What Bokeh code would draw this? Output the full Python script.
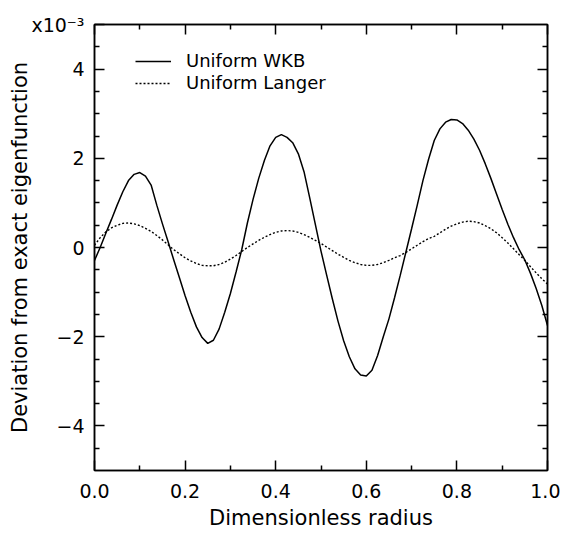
from bokeh.plotting import figure
from bokeh.models import LinearAxis, Legend, LegendItem, FixedTicker, Range1d
from bokeh.embed import file_html
from bokeh.resources import INLINE

# ---- data (values in units of 1e-3) ----
radius = [0.0000, 0.0125, 0.0250, 0.0375, 0.0500, 0.0625, 0.0750, 0.0875,
          0.1000, 0.1125, 0.1250, 0.1375, 0.1500, 0.1625, 0.1750, 0.1875,
          0.2000, 0.2125, 0.2250, 0.2375, 0.2500, 0.2625, 0.2750, 0.2875,
          0.3000, 0.3125, 0.3250, 0.3375, 0.3500, 0.3625, 0.3750, 0.3875,
          0.4000, 0.4125, 0.4250, 0.4375, 0.4500, 0.4625, 0.4750, 0.4875,
          0.5000, 0.5125, 0.5250, 0.5375, 0.5500, 0.5625, 0.5750, 0.5875,
          0.6000, 0.6125, 0.6250, 0.6375, 0.6500, 0.6625, 0.6750, 0.6875,
          0.7000, 0.7125, 0.7250, 0.7375, 0.7500, 0.7625, 0.7750, 0.7875,
          0.8000, 0.8125, 0.8250, 0.8375, 0.8500, 0.8625, 0.8750, 0.8875,
          0.9000, 0.9125, 0.9250, 0.9375, 0.9500, 0.9625, 0.9750, 0.9875,
          1.0000]
uniform_wkb = [-0.29, 0.00, 0.32, 0.63, 0.95, 1.25, 1.50, 1.64,
               1.68, 1.60, 1.40, 0.95, 0.53, 0.13, -0.28, -0.68,
               -1.08, -1.45, -1.78, -2.02, -2.15, -2.08, -1.83, -1.45,
               -1.03, -0.55, -0.05, 0.55, 1.08, 1.55, 1.95, 2.28,
               2.47, 2.53, 2.47, 2.35, 2.10, 1.70, 1.12, 0.52,
               -0.08, -0.62, -1.15, -1.65, -2.09, -2.45, -2.72, -2.86,
               -2.88, -2.75, -2.42, -2.00, -1.60, -1.12, -0.62, -0.10,
               0.42, 0.95, 1.50, 1.98, 2.40, 2.66, 2.81, 2.87,
               2.86, 2.78, 2.63, 2.43, 2.18, 1.88, 1.55, 1.20,
               0.85, 0.52, 0.22, -0.05, -0.28, -0.58, -0.92, -1.30,
               -1.75]
uniform_langer = [0.05, 0.22, 0.35, 0.44, 0.50, 0.54, 0.55, 0.53,
                  0.49, 0.43, 0.36, 0.27, 0.17, 0.06, -0.05, -0.14,
                  -0.23, -0.30, -0.36, -0.40, -0.41, -0.41, -0.38, -0.33,
                  -0.26, -0.18, -0.09, 0.00, 0.08, 0.16, 0.23, 0.29,
                  0.34, 0.37, 0.38, 0.37, 0.34, 0.29, 0.23, 0.16,
                  0.09, 0.01, -0.07, -0.15, -0.22, -0.29, -0.34, -0.38,
                  -0.40, -0.40, -0.38, -0.34, -0.29, -0.23, -0.18, -0.11,
                  -0.03, 0.05, 0.13, 0.20, 0.25, 0.33, 0.41, 0.48,
                  0.53, 0.57, 0.59, 0.58, 0.55, 0.49, 0.42, 0.33,
                  0.22, 0.10, -0.03, -0.16, -0.29, -0.43, -0.57, -0.70,
                  -0.82]

x_ticks = [0.0, 0.2, 0.4, 0.6, 0.8, 1.0]
x_minor = [0.1, 0.3, 0.5, 0.7, 0.9]
x_tick_labels = ["0.0", "0.2", "0.4", "0.6", "0.8", "1.0"]
y_ticks = [-4, -2, 0, 2, 4]
y_minor = [-4.5, -3.5, -3, -2.5, -1.5, -1, -0.5, 0.5, 1, 1.5, 2.5, 3, 3.5, 4.5]
y_tick_labels = ["\u22124", "\u22122", "0", "2", "4"]
y_scale_value = 5
y_scale_label = "x10\u207b\u00b3"

FONT = "DejaVu Sans"

p = figure(width=560, height=536, output_backend="svg", toolbar_location=None,
           x_range=Range1d(0, 1), y_range=Range1d(-5, 5),
           x_axis_label="Dimensionless radius",
           y_axis_label="Deviation from exact eigenfunction",
           min_border_left=94, min_border_right=13, min_border_top=24,
           min_border_bottom=66)
p.grid.visible = False
p.outline_line_color = "black"
p.outline_line_width = 1.5
p.background_fill_color = "white"
p.border_fill_color = "white"

r_wkb = p.line(radius, uniform_wkb, line_color="black", line_width=1.5)
r_lan = p.line(radius, uniform_langer, line_color="black", line_width=1.4,
               line_dash="2 2")


def style_axis(ax, ticks, minor, overrides, show_labels):
    ax.ticker = FixedTicker(ticks=ticks, minor_ticks=minor)
    ax.major_label_overrides = overrides
    ax.axis_line_color = "black"
    ax.axis_line_width = 1.5
    ax.major_tick_line_color = "black"
    ax.major_tick_line_width = 1.5
    ax.minor_tick_line_color = "black"
    ax.minor_tick_line_width = 1.5
    ax.major_tick_in = 10
    ax.major_tick_out = 0
    ax.minor_tick_in = 5
    ax.minor_tick_out = 0
    ax.major_label_text_font = FONT
    ax.major_label_text_color = "black"
    if show_labels:
        ax.major_label_text_font_size = "19px"
    else:
        ax.major_label_text_font_size = "0px"
        ax.major_label_standoff = 0


x_over = {t: l for t, l in zip(x_ticks, x_tick_labels)}
y_over = {t: l for t, l in zip(y_ticks, y_tick_labels)}
y_over_left = dict(y_over)
y_over_left[y_scale_value] = y_scale_label

xa = p.xaxis[0]
ya = p.yaxis[0]
style_axis(xa, x_ticks, x_minor, x_over, True)
style_axis(ya, y_ticks + [y_scale_value], y_minor, y_over_left, True)
xa.major_label_standoff = 13
ya.major_label_standoff = 10
for ax in (xa, ya):
    ax.axis_label_text_font = FONT
    ax.axis_label_text_font_size = "21px"
    ax.axis_label_text_font_style = "normal"
    ax.axis_label_text_color = "black"
xa.axis_label_standoff = 5
ya.axis_label_standoff = -4

top = LinearAxis()
right = LinearAxis()
style_axis(top, x_ticks, x_minor, x_over, False)
style_axis(right, y_ticks, y_minor, y_over, False)
p.add_layout(top, "above")
p.add_layout(right, "right")

legend = Legend(items=[LegendItem(label="Uniform WKB", renderers=[r_wkb]),
                       LegendItem(label="Uniform Langer", renderers=[r_lan])],
                location=(41, 377), orientation="vertical",
                border_line_color=None, background_fill_alpha=0,
                padding=0, margin=0, spacing=1,
                glyph_width=36, glyph_height=20, label_height=20,
                label_standoff=15, label_text_font=FONT,
                label_text_font_size="18px", label_text_color="black")
p.add_layout(legend, "center")

open("out.html", "w").write(file_html(p, INLINE))
